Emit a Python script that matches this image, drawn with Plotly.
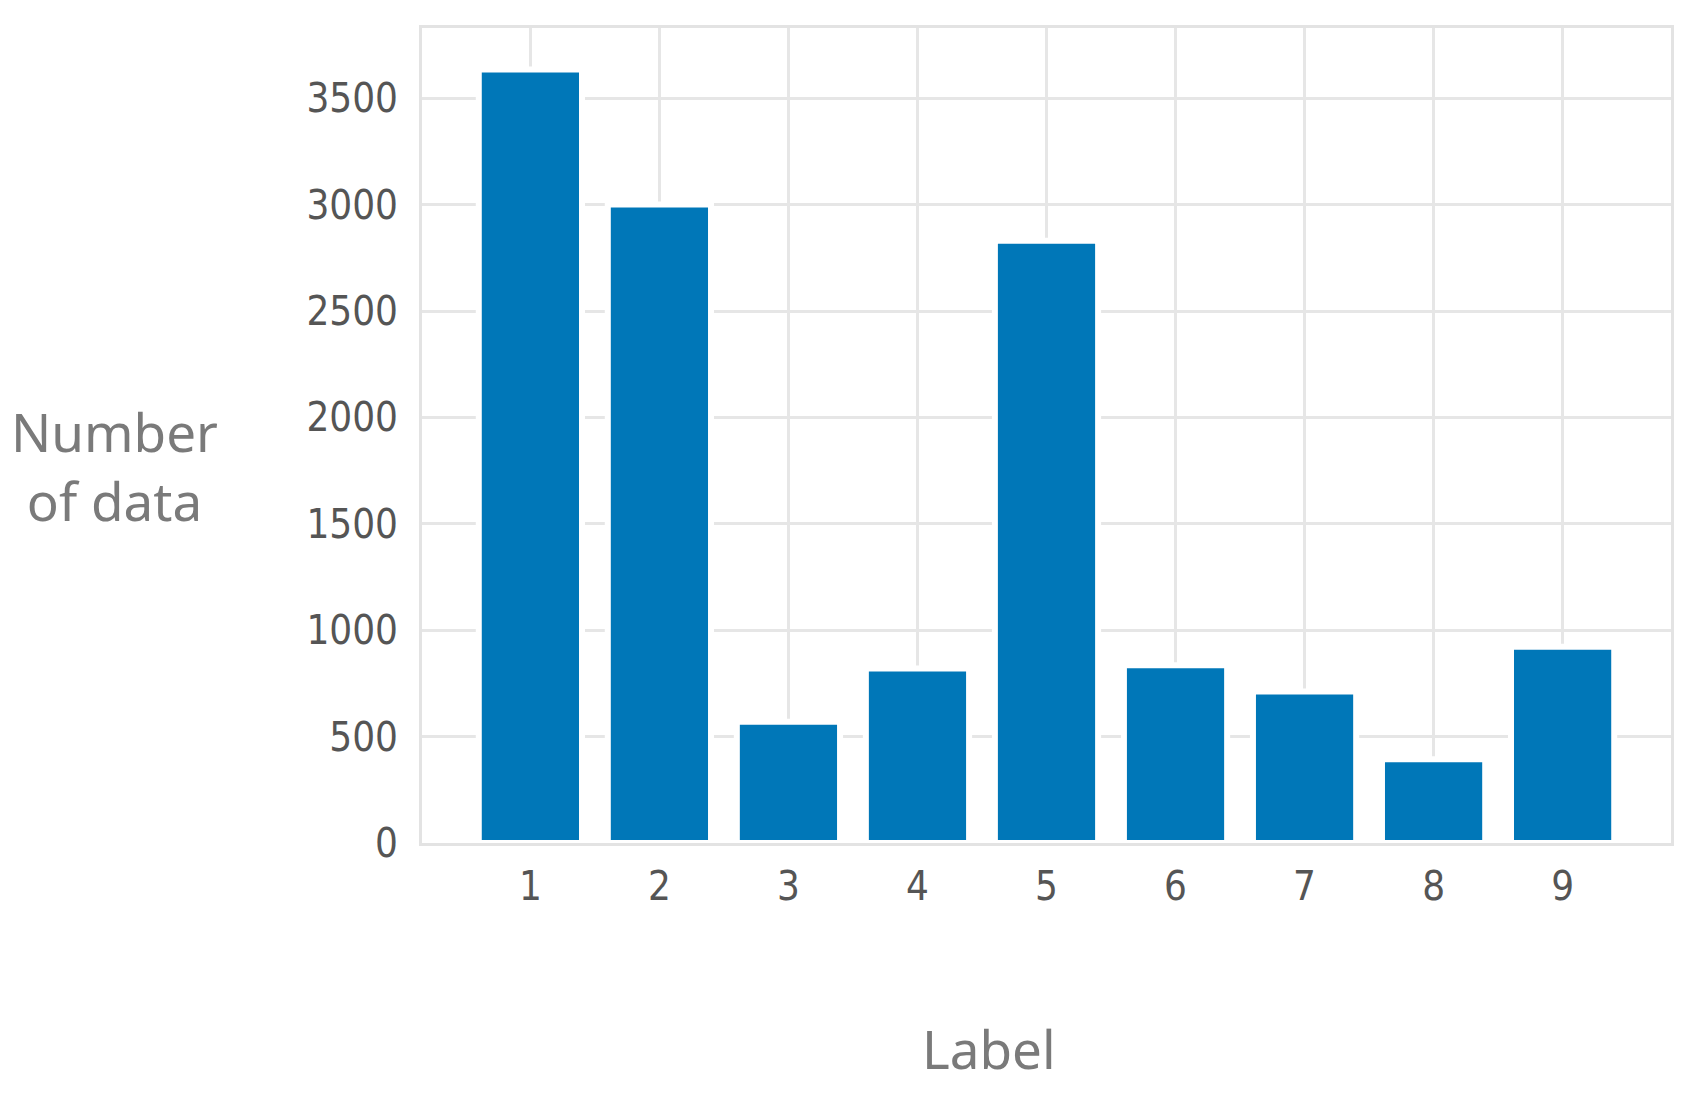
import plotly.graph_objects as go

labels = [1, 2, 3, 4, 5, 6, 7, 8, 9]
counts = [3635, 3000, 570, 820, 2830, 835, 712, 393, 922]
yticks = [0, 500, 1000, 1500, 2000, 2500, 3000, 3500]

tickfont = dict(family="DejaVu Sans Condensed, Liberation Sans Narrow, Noto Sans", size=40, color="#555555")
titlefont = dict(family="Noto Sans, Open Sans, sans-serif", size=53, color="#7a7a7a")

fig = go.Figure(go.Bar(
    x=labels, y=counts, width=0.8,
    marker=dict(color="#0077b8", line=dict(color="white", width=6)),
))

fig.update_xaxes(range=[0.16, 9.84], tickvals=labels, tickfont=tickfont,
                 showgrid=True, gridcolor="#e6e6e6", gridwidth=3,
                 showline=True, mirror=True, linecolor="#e3e3e3", linewidth=3,
                 ticks="", ticklabelstandoff=6, zeroline=False)
fig.update_yaxes(range=[0, 3830], tickvals=yticks, tickfont=tickfont,
                 showgrid=True, gridcolor="#e6e6e6", gridwidth=3,
                 showline=True, mirror=True, linecolor="#e3e3e3", linewidth=3,
                 ticks="", ticklabelstandoff=13, zeroline=False)

# axis titles placed like the original (horizontal y title, off-centre x title)
fig.add_annotation(text="Number<br>of data", xref="paper", yref="paper",
                   x=-0.246, y=0.462, xanchor="center", yanchor="middle",
                   showarrow=False, font=titlefont, align="center")
fig.add_annotation(text="Label", xref="paper", yref="paper",
                   x=0.454, y=-0.252, xanchor="center", yanchor="middle",
                   showarrow=False, font=titlefont)

fig.update_layout(width=1693, height=1095, plot_bgcolor="white", paper_bgcolor="white",
                  margin=dict(l=414, r=30, t=20, b=260), showlegend=False)

fig.write_html("out.html")
